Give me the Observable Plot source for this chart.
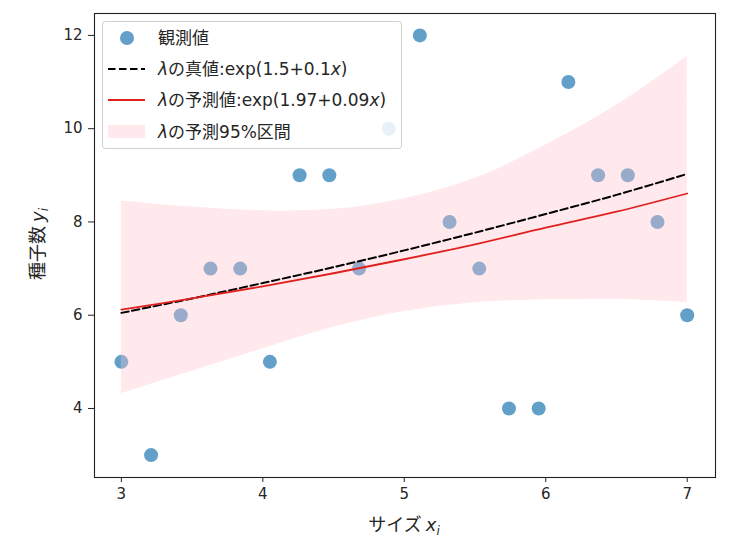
<!DOCTYPE html>
<html>
<head>
<meta charset="utf-8">
<script src="https://cdn.jsdelivr.net/npm/d3@7"></script>
<script src="https://cdn.jsdelivr.net/npm/@observablehq/plot@0.6"></script>
<style>
  html, body { margin: 0; padding: 0; background: #fff; }
  #chart { position: relative; width: 733px; height: 545px; }
</style>
</head>
<body>
<div id="chart"></div>
<script>
// observed data
const sizeX = [3.00, 3.21, 3.42, 3.63, 3.84, 4.05, 4.26, 4.47, 4.68, 4.89,
               5.11, 5.32, 5.53, 5.74, 5.95, 6.16, 6.37, 6.58, 6.79, 7.00];
const seedY = [5, 3, 6, 7, 7, 5, 9, 9, 7, 10,
               12, 8, 7, 4, 4, 11, 9, 9, 8, 6];

// curves
const curveX   = [3, 3.5, 4, 4.5, 5, 5.5, 6, 6.5, 7];
const trueLam  = [6.05, 6.36, 6.69, 7.03, 7.39, 7.77, 8.17, 8.58, 9.03];
const predLam  = [6.12, 6.36, 6.62, 6.90, 7.20, 7.52, 7.88, 8.22, 8.61];
const lowerLam = [4.32, 4.80, 5.28, 5.74, 6.08, 6.27, 6.33, 6.34, 6.27];
const upperLam = [8.45, 8.32, 8.24, 8.27, 8.50, 8.93, 9.65, 10.50, 11.55];

const xTicks = [3, 4, 5, 6, 7];
const yTicks = [4, 6, 8, 10, 12];

const legendLabels = ["観測値", "λの真値:exp(1.5+0.1x)", "λの予測値:exp(1.97+0.09x)", "λの予測95%区間"];

const points = sizeX.map((x, i) => ({x, y: seedY[i]}));
const curves = curveX.map((x, i) => ({x, t: trueLam[i], p: predLam[i], lo: lowerLam[i], hi: upperLam[i]}));

const dotColor = "#1f77b4";
const predColor = "#e0201f";
const bandColor = "#ffc0cb";

const plot = Plot.plot({
  width: 733,
  height: 545,
  marginLeft: 94,
  marginRight: 18,
  marginTop: 13,
  marginBottom: 68,
  style: {fontSize: "15px", fontFamily: "'DejaVu Sans', sans-serif", color: "#262626", background: "white"},
  x: {domain: [2.81, 7.2], ticks: xTicks, tickFormat: d => String(d), tickSize: 5, label: null, tickPadding: 6},
  y: {domain: [2.52, 12.47], ticks: yTicks, tickFormat: d => String(d), tickSize: 6, label: null, tickPadding: 6},
  marks: [
    Plot.dot(points, {x: "x", y: "y", r: 7, fill: dotColor, fillOpacity: 0.7, stroke: "none"}),
    Plot.areaY(curves, {x: "x", y1: "lo", y2: "hi", fill: bandColor, fillOpacity: 0.35, curve: "catmull-rom"}),
    Plot.line(curves, {x: "x", y: "t", stroke: "black", strokeWidth: 2, strokeDasharray: "7.5,3.5", curve: "catmull-rom"}),
    Plot.line(curves, {x: "x", y: "p", stroke: predColor, strokeWidth: 1.8, curve: "catmull-rom"}),
    Plot.frame({stroke: "#222", strokeWidth: 1.1})
  ]
});

document.getElementById("chart").appendChild(plot);

const svg = d3.select(plot);
const jp = "'Noto Sans CJK JP', 'DejaVu Sans', sans-serif";
const lat = "'DejaVu Sans', sans-serif";

// axis labels
const xl = svg.append("text")
  .attr("x", 404).attr("y", 531)
  .attr("text-anchor", "middle")
  .attr("font-family", jp).attr("font-size", 18).attr("fill", "#262626");
xl.append("tspan").text("サイズ ");
xl.append("tspan").attr("font-style", "italic").attr("font-family", lat).text("x");
xl.append("tspan").attr("font-style", "italic").attr("font-family", lat).attr("font-size", 12).attr("dy", 4).text("i");

const yl = svg.append("text")
  .attr("transform", "translate(44,244) rotate(-90)")
  .attr("text-anchor", "middle")
  .attr("font-family", jp).attr("font-size", 18).attr("fill", "#262626");
yl.append("tspan").text("種子数 ");
yl.append("tspan").attr("font-style", "italic").attr("font-family", lat).text("y");
yl.append("tspan").attr("font-style", "italic").attr("font-family", lat).attr("font-size", 12).attr("dy", 4).text("i");

// legend
const lg = svg.append("g").attr("text-anchor", "start");
lg.append("rect")
  .attr("x", 102.5).attr("y", 21.5).attr("width", 299).attr("height", 127)
  .attr("rx", 3).attr("fill", "white").attr("fill-opacity", 0.85)
  .attr("stroke", "#d0d0d0").attr("stroke-width", 1);

const rowY = [38, 69, 100, 131.5];
const symX0 = 108, symX1 = 145, textX = 158;

lg.append("circle").attr("cx", 127).attr("cy", rowY[0]).attr("r", 7)
  .attr("fill", dotColor).attr("fill-opacity", 0.7);
lg.append("line").attr("x1", symX0).attr("x2", symX1).attr("y1", rowY[1]).attr("y2", rowY[1])
  .attr("stroke", "black").attr("stroke-width", 2).attr("stroke-dasharray", "7.5,3.5");
lg.append("line").attr("x1", symX0).attr("x2", symX1).attr("y1", rowY[2]).attr("y2", rowY[2])
  .attr("stroke", predColor).attr("stroke-width", 1.8);
lg.append("rect").attr("x", symX0).attr("y", rowY[3] - 6.5).attr("width", symX1 - symX0).attr("height", 13)
  .attr("fill", bandColor).attr("fill-opacity", 0.35);

// parts: [text, kind] kind: "jp" | "lat" | "it"
function legendText(i, parts) {
  const t = lg.append("text").attr("x", textX).attr("y", rowY[i]).attr("dy", "0.36em")
    .attr("text-anchor", "start")
    .attr("font-family", jp).attr("font-size", 17).attr("fill", "#262626");
  parts.forEach(([s, kind]) => {
    const sp = t.append("tspan").text(s);
    if (kind === "it") sp.attr("font-style", "italic").attr("font-family", lat);
    else if (kind === "lat") sp.attr("font-family", lat);
  });
}
legendText(0, [[legendLabels[0], "jp"]]);
legendText(1, [["λ", "it"], ["の真値", "jp"], [":exp(1.5+0.1", "lat"], ["x", "it"], [")", "lat"]]);
legendText(2, [["λ", "it"], ["の予測値", "jp"], [":exp(1.97+0.09", "lat"], ["x", "it"], [")", "lat"]]);
legendText(3, [["λ", "it"], ["の予測", "jp"], ["95%", "lat"], ["区間", "jp"]]);
</script>
</body>
</html>
